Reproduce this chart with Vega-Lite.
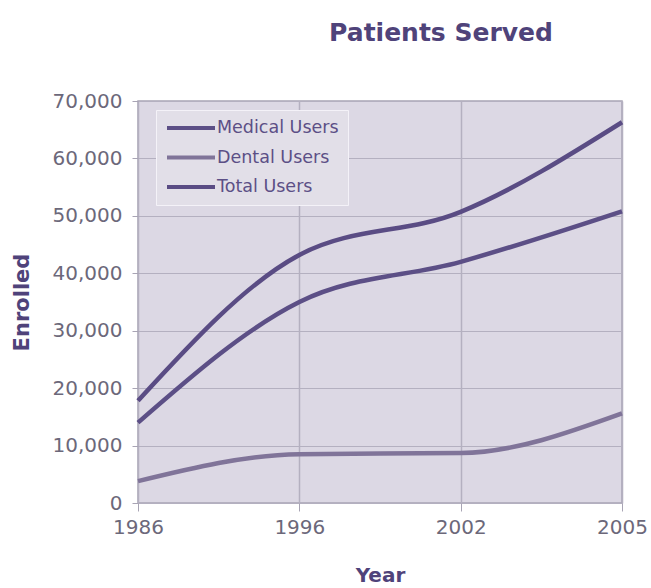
{
  "$schema": "https://vega.github.io/schema/vega-lite/v6.json",
  "width": 484,
  "height": 402,
  "autosize": {"type": "none"},
  "padding": {"left": 138, "top": 101, "right": 29, "bottom": 85},
  "background": "white",
  "title": {
    "text": "Patients Served",
    "font": "DejaVu Sans",
    "fontSize": 25,
    "fontWeight": "bold",
    "color": "#4f437a",
    "anchor": "middle",
    "dx": 61,
    "offset": 45
  },
  "config": {
    "view": {"fill": "#dcd8e4", "stroke": "#a8a4b4", "strokeWidth": 1.5},
    "font": "DejaVu Sans"
  },
  "data": {
    "values": [
      {"Year": "1986", "Series": "Medical Users", "Enrolled": 14000},
      {"Year": "1996", "Series": "Medical Users", "Enrolled": 35000},
      {"Year": "2002", "Series": "Medical Users", "Enrolled": 42000},
      {"Year": "2005", "Series": "Medical Users", "Enrolled": 50800},
      {"Year": "1986", "Series": "Dental Users", "Enrolled": 3800},
      {"Year": "1996", "Series": "Dental Users", "Enrolled": 8500},
      {"Year": "2002", "Series": "Dental Users", "Enrolled": 8700},
      {"Year": "2005", "Series": "Dental Users", "Enrolled": 15600},
      {"Year": "1986", "Series": "Total Users", "Enrolled": 17800},
      {"Year": "1996", "Series": "Total Users", "Enrolled": 43200},
      {"Year": "2002", "Series": "Total Users", "Enrolled": 50700},
      {"Year": "2005", "Series": "Total Users", "Enrolled": 66300}
    ]
  },
  "mark": {"type": "line", "interpolate": "monotone", "strokeWidth": 4.5},
  "encoding": {
    "x": {
      "field": "Year",
      "type": "ordinal",
      "scale": {"type": "point", "padding": 0},
      "axis": {
        "labelAngle": 0,
        "title": "Year",
        "titleFont": "DejaVu Sans",
        "titleFontSize": 20,
        "titleFontWeight": "bold",
        "titleColor": "#4f437a",
        "titlePadding": 28,
        "labelFontSize": 20,
        "labelColor": "#6c687a",
        "labelPadding": 6,
        "tickSize": 8,
        "tickColor": "#a8a4b4",
        "domain": false,
        "grid": true,
        "gridColor": "#b4b0c0",
        "gridWidth": 1.5
      }
    },
    "y": {
      "field": "Enrolled",
      "type": "quantitative",
      "scale": {"domain": [0, 70000], "nice": false},
      "axis": {
        "values": [0, 10000, 20000, 30000, 40000, 50000, 60000, 70000],
        "format": ",d",
        "title": "Enrolled",
        "titleFont": "DejaVu Sans",
        "titleFontSize": 21,
        "titleFontWeight": "bold",
        "titleColor": "#4f437a",
        "titlePadding": 20,
        "labelFontSize": 20,
        "labelColor": "#6c687a",
        "labelPadding": 10,
        "tickSize": 6,
        "tickColor": "#a8a4b4",
        "domain": false,
        "grid": true,
        "gridColor": "#b4b0c0",
        "gridWidth": 1
      }
    },
    "color": {
      "field": "Series",
      "type": "nominal",
      "scale": {
        "domain": ["Medical Users", "Dental Users", "Total Users"],
        "range": ["#5c4f86", "#807499", "#5a4c84"]
      },
      "legend": {
        "title": null,
        "orient": "none",
        "legendX": 18,
        "legendY": 9,
        "symbolType": "stroke",
        "symbolStrokeWidth": 4,
        "symbolSize": 2304,
        "clipHeight": 18,
        "labelFont": "DejaVu Sans",
        "labelFontSize": 17.5,
        "labelColor": "#5c4f86",
        "labelOffset": 0,
        "rowPadding": 11.5,
        "padding": 9,
        "fillColor": "#e2dfe8",
        "strokeColor": "#f4f2f8"
      }
    }
  }
}
